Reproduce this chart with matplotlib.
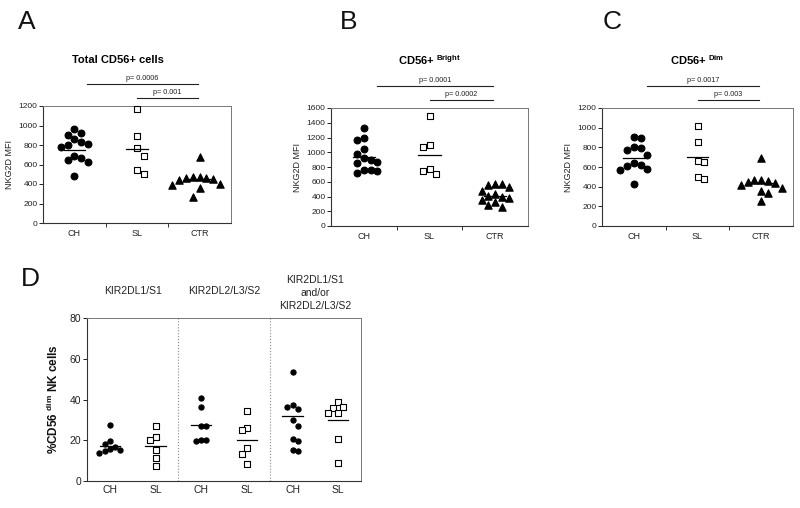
import matplotlib.pyplot as plt
import numpy as np

plt.rcParams['font.family'] = ['Liberation Sans', 'DejaVu Sans']

W, H = 800, 508

groups = ['CH', 'SL', 'CTR']

# panel A - total CD56+ cells (NKG2D MFI)
a_ch = [960, 925, 905, 860, 830, 815, 795, 780, 690, 665, 645, 625, 480]
a_sl = [1166, 895, 769, 685, 539, 505]
a_ctr = [675, 475, 470, 465, 460, 455, 445, 400, 385, 360, 270]
a_means = [752, 763, 447]

# panel B - CD56 bright
b_ch = [1325, 1200, 1160, 1040, 975, 920, 890, 870, 850, 760, 755, 740, 725]
b_sl = [1493, 1099, 1068, 774, 747, 701]
b_ctr = [575, 570, 560, 530, 470, 440, 410, 400, 380, 350, 320, 290, 260]
b_means = [932, 965, 410]

# panel C - CD56 dim
c_ch = [910, 890, 805, 790, 775, 720, 640, 620, 610, 580, 570, 425]
c_sl = [1020, 858, 661, 647, 495, 475]
c_ctr = [690, 470, 465, 460, 450, 435, 415, 385, 360, 340, 250]
c_means = [690, 700, 440]

# panel D - % of CD56dim NK cells
d_headers = ['KIR2DL1/S1', 'KIR2DL2/L3/S2', 'KIR2DL1/S1\nand/or\nKIR2DL2/L3/S2']
d_labels = ['CH', 'SL', 'CH', 'SL', 'CH', 'SL']
d_kir1_ch = [27.4, 19.8, 18.0, 16.5, 15.5, 15.2, 14.5, 13.8]
d_kir1_sl = [27.2, 21.5, 20.0, 15.4, 11.3, 7.2]
d_kir2_ch = [40.7, 36.4, 26.9, 26.9, 20.3, 20.3, 19.5]
d_kir2_sl = [34.3, 26.1, 24.9, 16.2, 13.4, 8.5]
d_any_ch = [53.4, 37.5, 36.4, 35.4, 29.8, 26.9, 20.7, 19.5, 15.4, 14.6]
d_any_sl = [38.9, 36.5, 36.0, 33.5, 33.5, 20.7, 8.9]
d_means = [17.4, 17.0, 27.4, 20.0, 31.8, 29.7]


def px_axes(fig, left, top, right, bottom):
    return fig.add_axes([left / W, 1 - bottom / H,
                         (right - left) / W, (bottom - top) / H])


def swarm(values, diam, py):
    # simple beeswarm: pixel offsets so markers do not overlap
    ys = np.asarray(values, dtype=float) * py
    order = np.argsort(-ys)
    placed = []
    xs = np.zeros(len(ys))
    for n, i in enumerate(order):
        y = ys[i]
        found = None
        for k in range(60):
            signs = (1,) if k == 0 else ((1, -1) if n % 2 else (-1, 1))
            for s in signs:
                x = s * k * diam * 0.5
                if all(abs(x - qx) >= diam * 0.95 or abs(y - qy) >= diam * 1.3
                       for qx, qy in placed):
                    found = x
                    break
            if found is not None:
                break
        placed.append((found, y))
        xs[i] = found
    return xs


def style_box(ax):
    for side in ['left', 'bottom']:
        ax.spines[side].set_color('#333333')
        ax.spines[side].set_linewidth(0.8)
    for side in ['top', 'right']:
        ax.spines[side].set_color('#777777')
        ax.spines[side].set_linewidth(0.7)


MARKS = {
    'o': dict(marker='o', facecolor='black', edgecolor='black'),
    's': dict(marker='s', facecolor='white', edgecolor='black'),
    '^': dict(marker='^', facecolor='black', edgecolor='black'),
}


def dot_panel(ax, sets, means, markers, ymax, step, box_px, diam,
              sizes, half, labels):
    wpx = box_px[2] - box_px[0]
    hpx = box_px[3] - box_px[1]
    n = len(sets)
    px_x = wpx / n
    px_y = hpx / ymax
    for i, (vals, mk) in enumerate(zip(sets, markers)):
        dx = swarm(vals, diam, px_y) / px_x
        ax.scatter(i + 1 + dx, vals, s=sizes[mk], linewidths=0.8,
                   zorder=3, clip_on=False, **MARKS[mk])
        ax.plot([i + 1 - half, i + 1 + half], [means[i], means[i]],
                color='black', lw=0.9, zorder=4)
    ax.set_xlim(0.5, n + 0.5)
    ax.set_ylim(0, ymax)
    ax.set_yticks(np.arange(0, ymax + 1, step))
    ax.set_xticks(range(1, n + 1), labels)
    ax.tick_params(axis='x', length=0, colors='#222222')
    ax.tick_params(axis='y', length=3, width=0.7, direction='out',
                   colors='#222222', pad=1)
    style_box(ax)


def p_bracket(ax, x0, x1, yfrac, text):
    tr = ax.get_xaxis_transform()
    ax.plot([x0, x1], [yfrac, yfrac], color='#222222', lw=0.8,
            transform=tr, clip_on=False)
    ax.text((x0 + x1) / 2, yfrac + 0.015, text, transform=tr,
            ha='center', va='bottom', fontsize=5.2, color='#222222')


fig = plt.figure(figsize=(W / 100, H / 100), dpi=100)

abc = [
    ('A', (43, 106, 231, 223), [a_ch, a_sl, a_ctr], a_means, 1200,
     ['p= 0.0006', 'p= 0.001'], 27, 'Total CD56+ cells', 118),
    ('B', (331, 108, 528, 226), [b_ch, b_sl, b_ctr], b_means, 1600,
     ['p= 0.0001', 'p= 0.0002'], 349, r'CD56+ $^{\mathregular{Bright}}$', 430),
    ('C', (602, 108, 793, 226), [c_ch, c_sl, c_ctr], c_means, 1200,
     ['p= 0.0017', 'p= 0.003'], 612, r'CD56+ $^{\mathregular{Dim}}$', 697),
]

for letter, box, sets, means, ymax, pvals, lx, title, tx in abc:
    ax = px_axes(fig, *box)
    dot_panel(ax, sets, means, ['o', 's', '^'], ymax, 200, box, 6.8,
              {'o': 24, 's': 20, '^': 28}, 0.17, groups)
    ax.set_xticks([1.5, 2.5], minor=True)
    ax.tick_params(axis='x', which='minor', length=3, width=0.7,
                   direction='out', color='#333333')
    ax.tick_params(axis='x', labelsize=6.5, pad=4)
    ax.tick_params(axis='y', labelsize=6)
    ax.set_ylabel('NKG2D MFI', fontsize=6.5, color='#222222', labelpad=3)
    p_bracket(ax, 1.2, 2.97, 1.19, pvals[0])
    p_bracket(ax, 2.0, 2.97, 1.07, pvals[1])
    fig.text(lx / W, 1 - 22 / H, letter, fontsize=19, ha='center',
             va='center', color='#111111')
    fig.text(tx / W, 1 - 60 / H, title, fontsize=8, fontweight='bold',
             ha='center', va='center')

# panel D
box_d = (87, 318, 361, 481)
axd = px_axes(fig, *box_d)
d_sets = [d_kir1_ch, d_kir1_sl, d_kir2_ch, d_kir2_sl, d_any_ch, d_any_sl]
dot_panel(axd, d_sets, d_means, ['o', 's'] * 3, 80, 20, box_d, 5.2,
          {'o': 14, 's': 16}, 0.22, d_labels)
axd.tick_params(axis='x', labelsize=7.5, pad=3)
axd.tick_params(axis='y', labelsize=7.5)
for xd in [2.5, 4.5]:
    axd.axvline(xd, color='#888888', ls=':', lw=0.8)
axd.set_ylabel(r'%CD56 $^{\mathregular{dim}}$ NK cells', fontsize=8.5,
               fontweight='bold', color='#111111', labelpad=6)
for k, head in enumerate(d_headers):
    yy = 1.165 if '\n' not in head else 1.152
    axd.text(1.5 + 2 * k, yy, head, transform=axd.get_xaxis_transform(),
             ha='center', va='center', fontsize=7.5, color='#222222',
             linespacing=1.35)
fig.text(30 / W, 1 - 279 / H, 'D', fontsize=19, ha='center', va='center',
         color='#111111')

fig.savefig('out.png', dpi=100)
